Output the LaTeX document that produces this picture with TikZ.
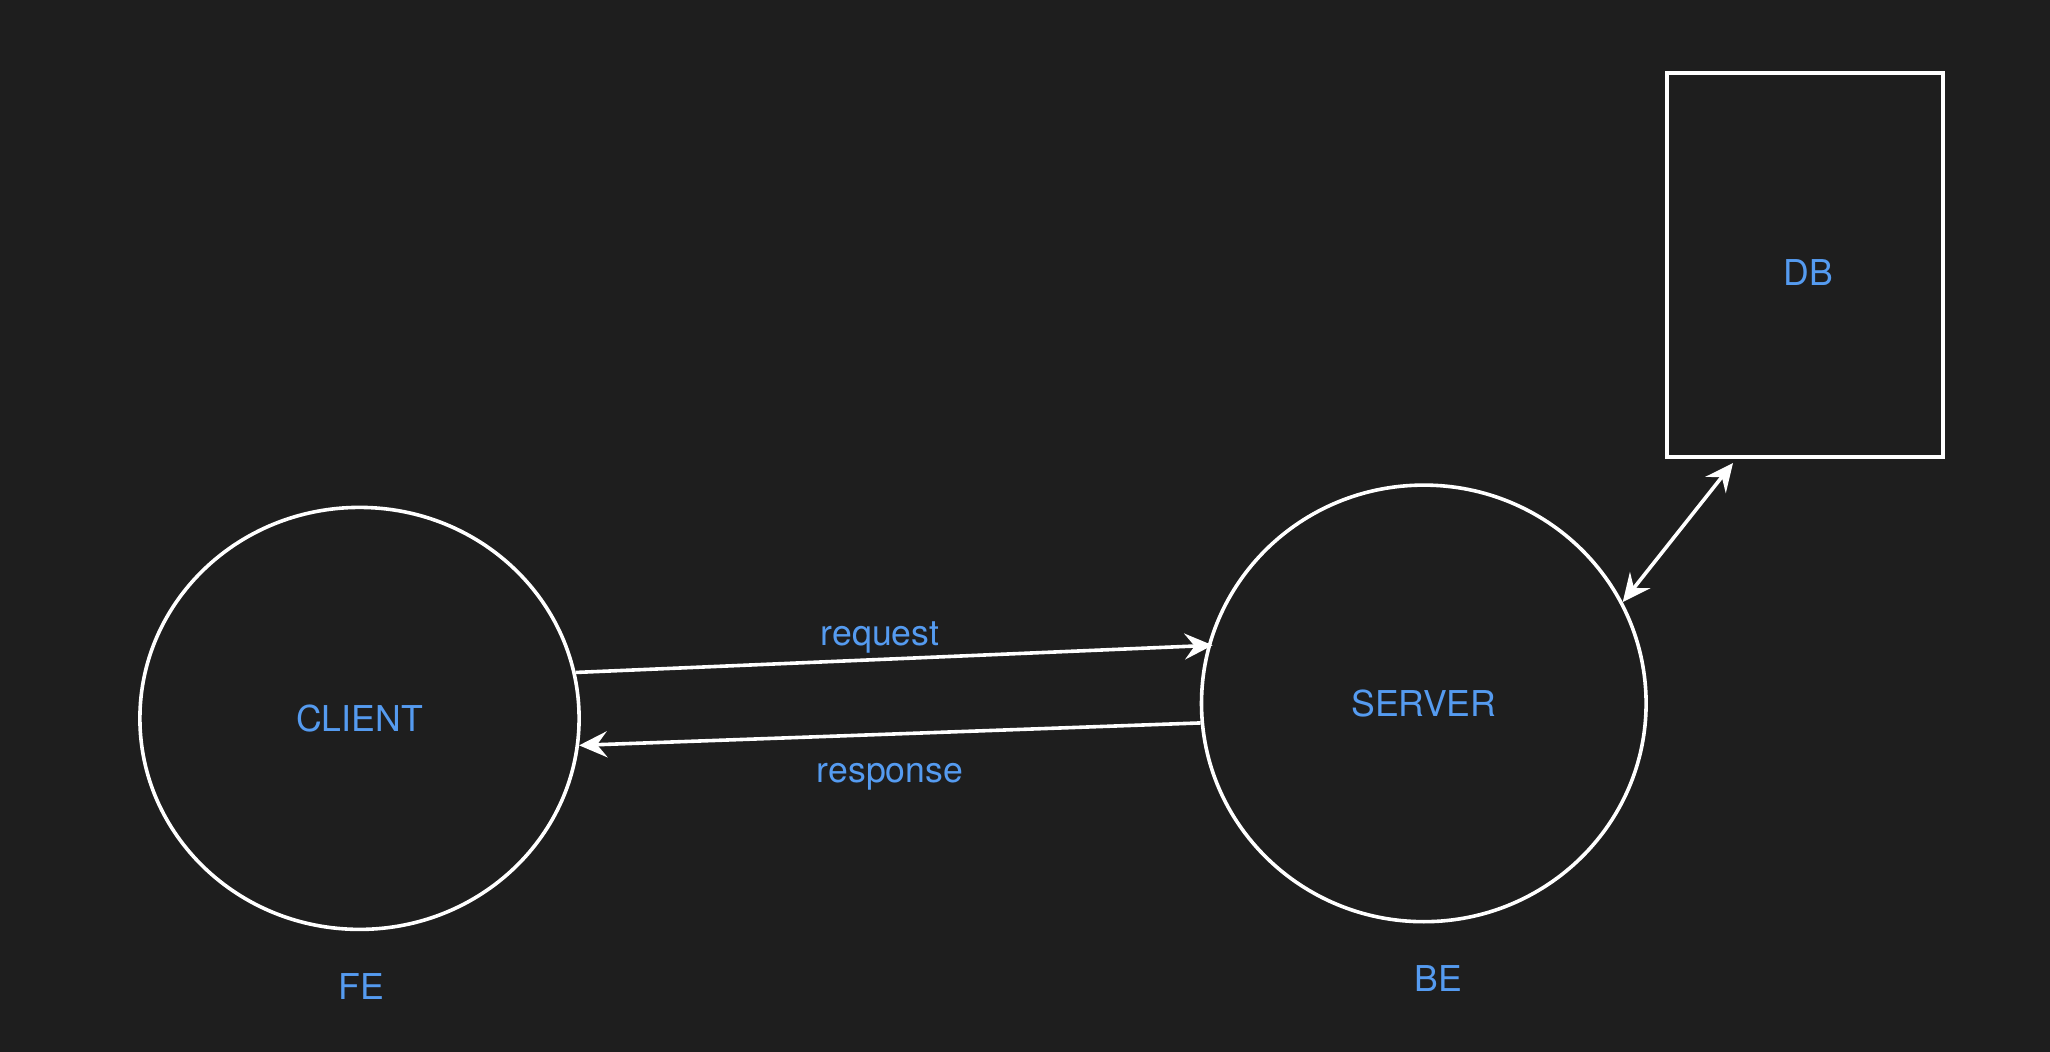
\documentclass[tikz,border=0pt]{standalone}
\usepackage{fontspec}
\setmainfont{TeX Gyre Heros}
\usetikzlibrary{shapes.geometric,arrows.meta}
\definecolor{bg}{HTML}{1E1E1E}
\definecolor{lbl}{RGB}{85,155,240}
\begin{document}
\begin{tikzpicture}[x=0.5pt,y=-0.5pt,
  txt/.style={text=lbl,font=\fontsize{17.8}{20}\selectfont,inner sep=0pt},
  bubble/.style={ellipse,draw=white,line width=1.8pt,inner sep=0pt,txt},
  store/.style={rectangle,draw=white,line width=2pt,inner sep=0pt,txt},
  tip/.style={Stealth[length=14pt,width=13pt,inset=5pt]},
  conn/.style={draw=white,line width=1.8pt,-{Stealth[length=14pt,width=13pt,inset=5pt]}},
  dconn/.style={draw=white,line width=1.8pt,{Stealth[length=14pt,width=13pt,inset=5pt]}-{Stealth[length=14pt,width=13pt,inset=5pt]}}
]
\fill[bg] (0,0) rectangle (2050,1052);
\useasboundingbox (0,0) rectangle (2050,1052);

\node[bubble,minimum width=219.6pt,minimum height=211pt] (client) at (359.5,718.4) {CLIENT};
\node[bubble,minimum width=222.3pt,minimum height=218.3pt] (server) at (1423.8,703.4) {SERVER};
\node[store,minimum width=138pt,minimum height=192pt] (db) at (1805,265.4) {};
\node[txt] (dblabel) at (1808,273) {DB};

\node[txt] (fe) at (361,987) {FE};
\node[txt] (be) at (1438,979) {BE};

\draw[conn,shorten >=-2.5pt] (client.12.2) -- (server.165);
\draw[conn] (server.185.1) -- (client.-7.7);

\coordinate (dbend) at (1733,463);
\draw[dconn] (server.27) -- (dbend);

\node[txt] (req) at (880,637) {request};
\node[txt] (resp) at (890,777) {response};
\end{tikzpicture}
\end{document}
